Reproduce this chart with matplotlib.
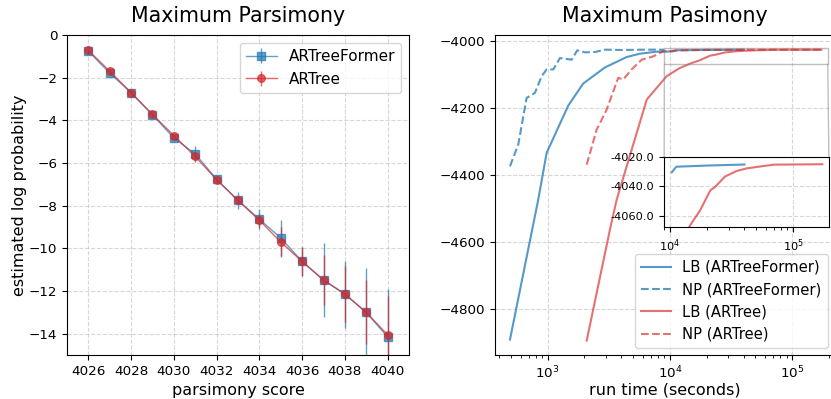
import numpy as np
import matplotlib.pyplot as plt
from matplotlib.patches import ConnectionPatch
from matplotlib.ticker import FormatStrFormatter, NullFormatter

# left panel: estimated log probability vs parsimony score
scores = np.arange(4026, 4041)
former_mean = [-0.75, -1.78, -2.70, -3.74, -4.82, -5.57, -6.76, -7.75, -8.63, -9.51,
               -10.61, -11.48, -12.14, -13.00, -14.15]
former_err = [0.08, 0.10, 0.08, 0.08, 0.10, 0.37, 0.12, 0.38, 0.47, 0.83,
              0.70, 1.74, 1.57, 2.10, 2.25]
artree_mean = [-0.72, -1.69, -2.70, -3.72, -4.71, -5.69, -6.78, -7.75, -8.68, -9.70,
               -10.61, -11.48, -12.14, -13.00, -14.05]
artree_err = [0.08, 0.08, 0.08, 0.08, 0.08, 0.20, 0.10, 0.18, 0.30, 0.69,
              0.70, 1.17, 1.30, 1.50, 1.80]

# right panel: lower bound (LB) and NP estimate vs run time
former_lb_t = [492, 838, 981, 1473, 1953, 2942, 4424, 5690, 7780, 10380, 11280,
               14000, 20000, 30000, 40300]
former_lb = [-4890, -4472, -4333, -4192, -4126, -4078, -4047, -4037, -4031, -4030.6,
             -4026.8, -4026.5, -4026.0, -4025.6, -4025.3]
former_np_t = [492, 575, 673, 787, 894, 981, 1112, 1260, 1572, 1746, 2020, 2437,
               2942, 4000, 6000, 9000]
former_np = [-4373, -4308, -4169, -4154, -4104, -4084, -4084, -4050, -4055, -4027,
             -4033, -4032, -4025, -4026, -4025, -4025]
artree_lb_t = [2085, 3230, 3664, 6456, 9400, 12000, 14760, 17500, 21400, 23200,
               27970, 34800, 42100, 69300, 172600]
artree_lb = [-4893, -4562, -4473, -4174, -4104, -4080, -4066, -4056.8, -4042.6,
             -4040.7, -4033.5, -4029.7, -4027.9, -4025.4, -4025.1]
artree_np_t = [2085, 2513, 3035, 3775, 4150, 4860, 5870, 7300, 8810, 12000, 20000,
               40000, 80000, 172600]
artree_np = [-4368, -4264, -4204, -4109, -4114, -4084, -4055, -4045, -4030, -4027,
             -4025.5, -4025, -4025, -4025]

# zoomed region shown in the inset
zoom_x = (9000, 195000)
zoom_y = (-4068, -4020)

blue = "tab:blue"
red = "tab:red"

fig = plt.figure(figsize=(8.31, 3.99), dpi=100)

ax1 = fig.add_axes([0.0806, 0.110, 0.4116, 0.802])
ax1.errorbar(scores, former_mean, yerr=former_err, color=blue, marker="s",
             markersize=5.5, lw=1, alpha=0.7, label="ARTreeFormer")
ax1.errorbar(scores, artree_mean, yerr=artree_err, color=red, marker="o",
             markersize=5.5, lw=1, alpha=0.7, label="ARTree")
ax1.set_xlim(4025, 4041)
ax1.set_ylim(-15, 0)
ax1.set_xticks(np.arange(4026, 4041, 2))
ax1.grid(True, linestyle="--", alpha=0.5)
ax1.set_title("Maximum Parsimony", fontsize=14.8, pad=9.5)
ax1.set_xlabel("parsimony score", fontsize=11.5)
ax1.set_ylabel("estimated log probability", fontsize=11.5, labelpad=1.5)
ax1.tick_params(labelsize=9.7)
ax1.legend(fontsize=11, loc="upper right")

ax2 = fig.add_axes([0.5953, 0.110, 0.4095, 0.802])
ax2.plot(former_lb_t, former_lb, color=blue, alpha=0.75, label="LB (ARTreeFormer)")
ax2.plot(former_np_t, former_np, color=blue, alpha=0.75, ls="--", label="NP (ARTreeFormer)")
ax2.plot(artree_lb_t, artree_lb, color=red, alpha=0.65, label="LB (ARTree)")
ax2.plot(artree_np_t, artree_np, color=red, alpha=0.65, ls="--", label="NP (ARTree)")
ax2.set_xscale("log")
ax2.set_xticks([1e3, 1e4, 1e5])
ax2.set_xlim(369, 223300)
ax2.grid(True, linestyle="--", alpha=0.5)
ax2.set_title("Maximum Pasimony", fontsize=14.8, pad=9.5)
ax2.set_xlabel("run time (seconds)", fontsize=11.5, labelpad=1)
ax2.tick_params(labelsize=9.7)
ax2.legend(fontsize=10.6, loc="lower right")

axins = ax2.inset_axes([0.498, 0.399, 0.484, 0.221])
fl_t = np.array(former_lb_t)
fl = np.array(former_lb)
keep = fl_t >= 1e4
axins.plot(fl_t[keep], fl[keep], color=blue, alpha=0.75)
axins.plot(artree_lb_t, artree_lb, color=red, alpha=0.65)
axins.set_xscale("log")
axins.set_xticks([1e4, 1e5])
axins.set_xlim(*zoom_x)
axins.set_ylim(*zoom_y)
axins.set_yticks([-4020, -4040, -4060])
axins.yaxis.set_major_formatter(FormatStrFormatter("%.1f"))
axins.xaxis.set_minor_formatter(NullFormatter())
axins.tick_params(labelsize=8.2)
axins.grid(True, linestyle="--", alpha=0.5)

# zoom box and connector lines
ax2.indicate_inset([zoom_x[0], zoom_y[0], zoom_x[1] - zoom_x[0], zoom_y[1] - zoom_y[0]],
                   edgecolor="gray")
for xd, xa in [(zoom_x[0], 0), (zoom_x[1], 1)]:
    con = ConnectionPatch(xyA=(xd, zoom_y[0]), coordsA=ax2.transData,
                          xyB=(xa, 1), coordsB=axins.transAxes,
                          color="gray", alpha=0.5, lw=1, zorder=4.99)
    ax2.add_artist(con)

fig.savefig("out.png", dpi=100)
